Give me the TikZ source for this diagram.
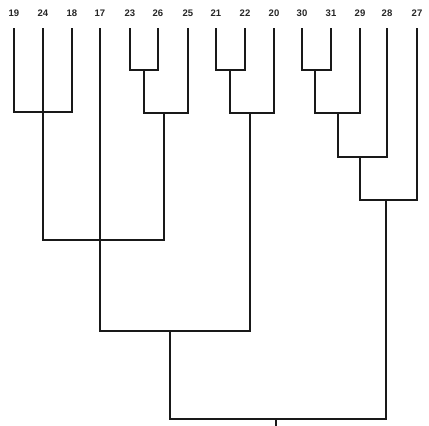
\documentclass[tikz,border=0pt]{standalone}
\usepackage{fontspec}
\setmainfont{Liberation Sans}
\begin{document}
\begin{tikzpicture}[x=1pt,y=-1pt,
  lbl/.style={font=\fontsize{9.5}{11}\selectfont\bfseries, inner sep=0pt, text=black!85},
  br/.style={draw=black!90, line width=1.3pt, line join=miter}]
\useasboundingbox[fill=white] (0,0) rectangle (429,426);
% leaf labels
\foreach \n/\x in {19/14,24/43,18/72,17/100,23/130,26/158,25/188,21/216,22/245,20/274,30/302,31/331,29/360,28/387,27/417}{
  \node[lbl] (n\n) at (\x,13.5) {\n};
  \coordinate (t\n) at (\x,28);
}
% junctions
\coordinate (m1) at (43,112);
\coordinate (m2) at (144,70);
\coordinate (m3) at (164,113);
\coordinate (m4) at (100,240);
\coordinate (m5) at (230,70);
\coordinate (m6) at (250,113);
\coordinate (m7) at (170,331);
\coordinate (m8) at (315,70);
\coordinate (m9) at (338,113);
\coordinate (m10) at (360,157);
\coordinate (m11) at (386,200);
\coordinate (m12) at (276,419);
\coordinate (root) at (276,426);
\draw[br] (t19) |- (m1) -| (t18);
\draw[br] (t23) |- (m2) -| (t26);
\draw[br] (m2) |- (m3) -| (t25);
\draw[br] (t24) |- (m4) -| (m3);
\draw[br] (t21) |- (m5) -| (t22);
\draw[br] (m5) |- (m6) -| (t20);
\draw[br] (t17) |- (m7) -| (m6);
\draw[br] (t30) |- (m8) -| (t31);
\draw[br] (m8) |- (m9) -| (t29);
\draw[br] (m9) |- (m10) -| (t28);
\draw[br] (m10) |- (m11) -| (t27);
\draw[br] (m7) |- (m12) -| (m11);
\draw[br] (m12) -- (root);
\end{tikzpicture}
\end{document}
